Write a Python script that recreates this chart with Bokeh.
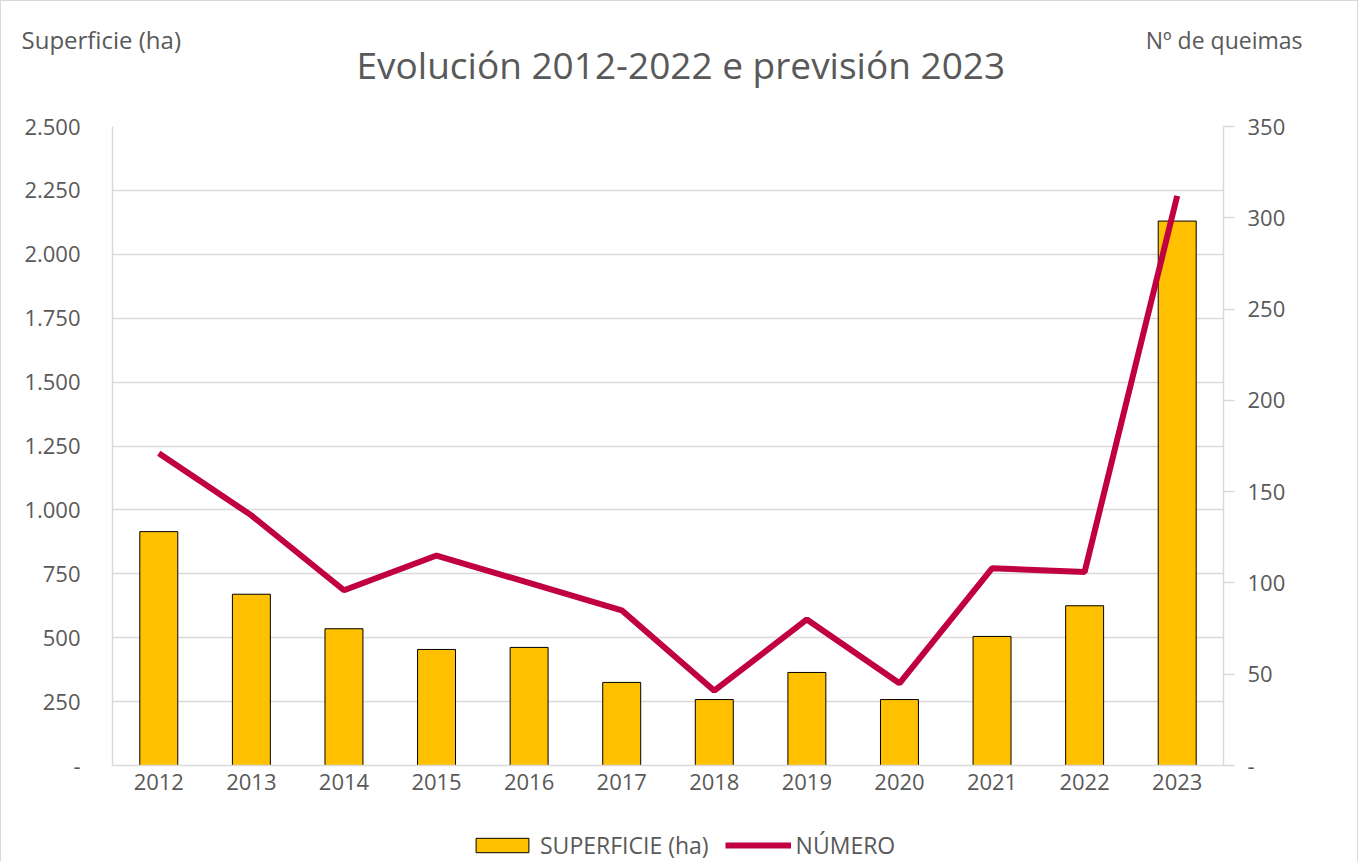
from bokeh.plotting import figure
from bokeh.layouts import column
from bokeh.models import Range1d, LinearAxis, FixedTicker, Legend, LegendItem, Title
from bokeh.embed import file_html
from bokeh.resources import INLINE

years = [2012, 2013, 2014, 2015, 2016, 2017, 2018, 2019, 2020, 2021, 2022, 2023]
superficie = [915, 670, 535, 454, 462, 325, 258, 364, 258, 505, 625, 2130]
numero = [171, 137, 96, 115, 100, 85, 41, 80, 45, 108, 106, 312]
left_ticks = [0, 250, 500, 750, 1000, 1250, 1500, 1750, 2000, 2250, 2500]
left_labels = ["-", "250", "500", "750", "1.000", "1.250", "1.500", "1.750", "2.000", "2.250", "2.500"]
right_ticks = [0, 50, 100, 150, 200, 250, 300, 350]
right_labels = ["-", "50", "100", "150", "200", "250", "300", "350"]
year_labels = [str(y) for y in years]
title_text = "Evolución 2012-2022 e previsión 2023"
left_title = "Superficie (ha)"
right_title = "Nº de queimas"
series_names = ["SUPERFICIE (ha)", "NÚMERO"]

FONT = "Open Sans"
TXT = "#595959"
GRID = "#d9d9d9"
BAR = "#FFC000"
LINE = "#C00040"
TICK_FS = "22px"
W = 1356
ML, MR = 111, 134


def bare(fig):
    fig.outline_line_color = None
    fig.grid.grid_line_color = None
    return fig


# ---------- header: axis titles and chart title ----------
HA = 109
head = bare(figure(width=W, height=HA, x_range=Range1d(2011.5, 2023.5), y_range=Range1d(0, 1),
                   output_backend="svg", toolbar_location=None,
                   x_axis_location=None, y_axis_location=None,
                   min_border_left=ML, min_border_right=MR, min_border_top=37, min_border_bottom=HA - 38))
head.add_layout(Title(text=left_title, align="left", offset=-91, standoff=-34, vertical_align="bottom",
                      text_font=FONT, text_font_size="24px", text_font_style="normal",
                      text_color=TXT), "above")
head.add_layout(Title(text=right_title, align="right", offset=-79, standoff=-32, vertical_align="top",
                      text_font=FONT, text_font_size="23px", text_font_style="normal",
                      text_color=TXT), "below")
head.add_layout(Title(text=title_text, align="left", offset=244, standoff=-6, vertical_align="top",
                      text_font=FONT, text_font_size="37px", text_font_style="normal",
                      text_color=TXT), "below")

# ---------- main chart ----------
MT, FH, MB = 16, 639, 40
p = figure(width=W, height=MT + FH + MB, x_range=Range1d(2011.5, 2023.5), y_range=Range1d(0, 2500),
           output_backend="svg", toolbar_location=None,
           min_border_left=ML, min_border_right=MR, min_border_top=MT, min_border_bottom=MB)
p.extra_y_ranges = {"right": Range1d(0, 350)}
p.outline_line_color = None

ya = p.yaxis[0]
ya.ticker = FixedTicker(ticks=left_ticks)
ya.major_label_overrides = {t: l for t, l in zip(left_ticks, left_labels)}
ya.major_tick_out = 0
ya.major_tick_in = 0
ya.minor_tick_out = 0
ya.minor_tick_in = 0
ya.axis_line_color = GRID
ya.axis_line_width = 1.5
ya.major_label_standoff = 32
ya.major_label_text_font = FONT
ya.major_label_text_font_size = TICK_FS
ya.major_label_text_color = TXT

xa = p.xaxis[0]
xa.ticker = FixedTicker(ticks=years)
xa.major_label_overrides = {y: l for y, l in zip(years, year_labels)}
xa.major_tick_out = 0
xa.major_tick_in = 0
xa.minor_tick_out = 0
xa.minor_tick_in = 0
xa.axis_line_color = GRID
xa.axis_line_width = 1.5
xa.major_label_standoff = 8
xa.major_label_text_font = FONT
xa.major_label_text_font_size = TICK_FS
xa.major_label_text_color = TXT

ra = LinearAxis(y_range_name="right", ticker=FixedTicker(ticks=right_ticks))
ra.major_label_overrides = {t: l for t, l in zip(right_ticks, right_labels)}
ra.major_tick_out = 11
ra.major_tick_in = 0
ra.minor_tick_out = 0
ra.minor_tick_in = 0
ra.major_tick_line_color = GRID
ra.major_tick_line_width = 1.5
ra.axis_line_color = GRID
ra.axis_line_width = 1.5
ra.major_label_standoff = 13
ra.major_label_text_font = FONT
ra.major_label_text_font_size = TICK_FS
ra.major_label_text_color = TXT
p.add_layout(ra, "right")

p.xgrid.grid_line_color = None
p.ygrid.grid_line_color = GRID
p.ygrid.grid_line_width = 1.5

p.vbar(x=years, top=superficie, width=0.41, bottom=0,
       fill_color=BAR, line_color="black", line_width=1)
p.line(x=years, y=numero, y_range_name="right", line_color=LINE, line_width=6)

# ---------- footer: legend (hidden copies of the series supply the swatches) ----------
HF = 861 - 1 - HA - (MT + FH + MB)
foot = bare(figure(width=W, height=HF, x_range=Range1d(2011.5, 2023.5), y_range=Range1d(-2, -1),
                   output_backend="svg", toolbar_location=None,
                   x_axis_location=None, y_axis_location=None,
                   min_border_left=ML, min_border_right=MR, min_border_top=0, min_border_bottom=0))
lb = foot.vbar(x=years, top=superficie, width=0.41, bottom=0,
               fill_color=BAR, line_color="black", line_width=1, visible=False)
ll = foot.line(x=years, y=numero, line_color=LINE, line_width=6, visible=False)
legend = Legend(items=[LegendItem(label=series_names[0], renderers=[lb]),
                       LegendItem(label=series_names[1], renderers=[ll])],
                orientation="horizontal", location=(357, 0),
                glyph_width=66, glyph_height=18, label_standoff=5, spacing=16,
                padding=0, margin=0, border_line_color=None, background_fill_alpha=0,
                label_text_font=FONT, label_text_font_size="23px", label_text_color=TXT)
foot.add_layout(legend)

layout = column(head, p, foot, spacing=0)
layout.styles = {"border-top": "1px solid #d9d9d9", "border-left": "1px solid #d9d9d9",
                 "border-right": "1px solid #d9d9d9"}

open("out.html", "w").write(file_html(layout, INLINE))
